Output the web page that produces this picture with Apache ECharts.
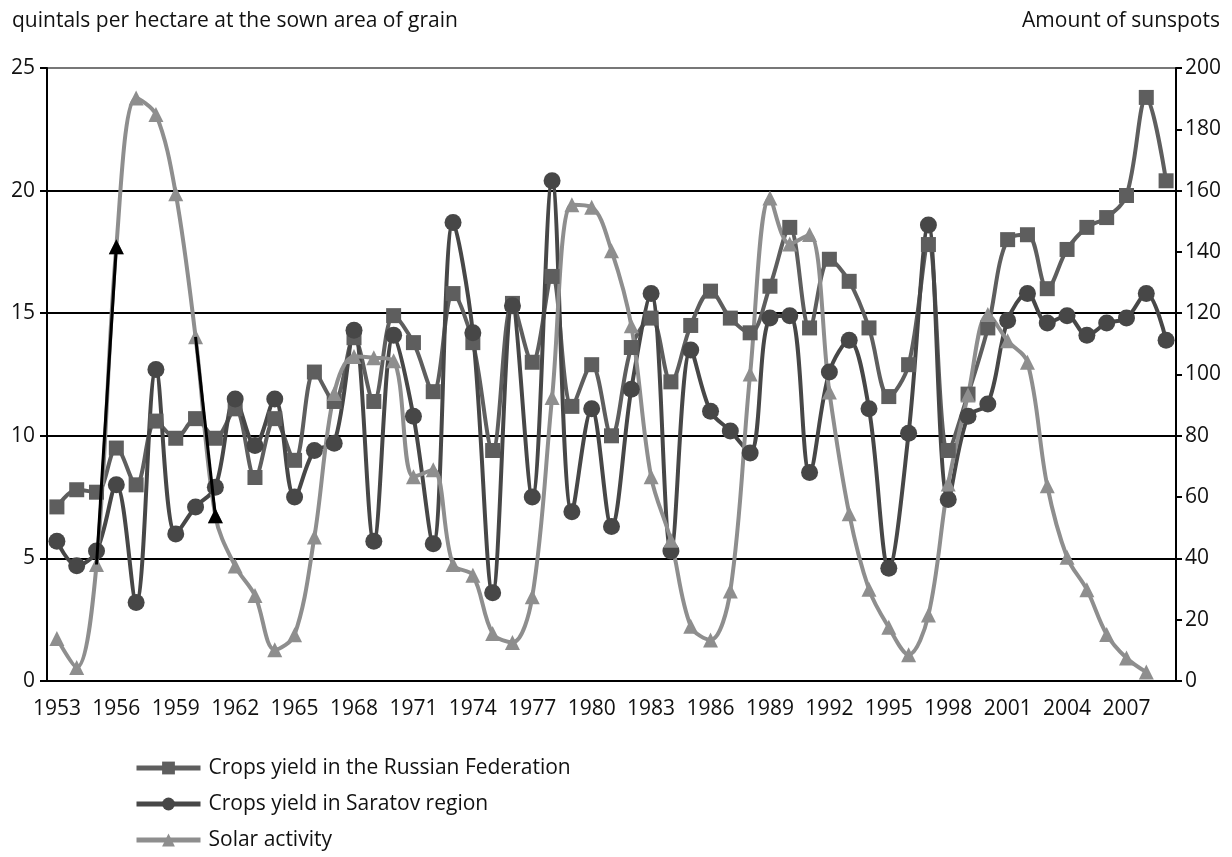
<!DOCTYPE html>
<html>
<head>
<meta charset="utf-8">
<script src="https://cdn.jsdelivr.net/npm/echarts@6/dist/echarts.min.js"></script>
<style>
  html, body { margin: 0; padding: 0; background: #fff; }
  #chart { width: 1232px; height: 857px; }
</style>
</head>
<body>
<div id="chart"></div>
<script>
const years = ['1953', '1954', '1955', '1956', '1957', '1958', '1959', '1960', '1961', '1962',
  '1963', '1964', '1965', '1966', '1967', '1968', '1969', '1970', '1971', '1972',
  '1973', '1974', '1975', '1976', '1977', '1978', '1979', '1980', '1981', '1982',
  '1983', '1984', '1985', '1986', '1987', '1988', '1989', '1990', '1991', '1992',
  '1993', '1994', '1995', '1996', '1997', '1998', '1999', '2000', '2001', '2002',
  '2003', '2004', '2005', '2006', '2007', '2008', '2009']

// quintals per hectare
const russia = [7.1, 7.8, 7.7, 9.5, 8.0, 10.6, 9.9, 10.7, 9.9, 11.1,
  8.3, 10.7, 9.0, 12.6, 11.4, 14.0, 11.4, 14.9, 13.8, 11.8,
  15.8, 13.8, 9.4, 15.4, 13.0, 16.5, 11.2, 12.9, 10.0, 13.6,
  14.8, 12.2, 14.5, 15.9, 14.8, 14.2, 16.1, 18.5, 14.4, 17.2,
  16.3, 14.4, 11.6, 12.9, 17.8, 9.4, 11.7, 14.4, 18.0, 18.2,
  16.0, 17.6, 18.5, 18.9, 19.8, 23.8, 20.4]

const saratov = [5.7, 4.7, 5.3, 8.0, 3.2, 12.7, 6.0, 7.1, 7.9, 11.5,
  9.6, 11.5, 7.5, 9.4, 9.7, 14.3, 5.7, 14.1, 10.8, 5.6,
  18.7, 14.2, 3.6, 15.3, 7.5, 20.4, 6.9, 11.1, 6.3, 11.9,
  15.8, 5.3, 13.5, 11.0, 10.2, 9.3, 14.8, 14.9, 8.5, 12.6,
  13.9, 11.1, 4.6, 10.1, 18.6, 7.4, 10.8, 11.3, 14.7, 15.8,
  14.6, 14.9, 14.1, 14.6, 14.8, 15.8, 13.9]

// sunspot numbers, none drawn for 2009
const solar = [13.9, 4.4, 38.0, 141.7, 190.2, 184.8, 159.0, 112.3, 53.9, 37.5,
  27.9, 10.2, 15.1, 47.0, 93.8, 105.9, 105.5, 104.5, 66.6, 68.9,
  38.0, 34.5, 15.5, 12.6, 27.5, 92.5, 155.4, 154.6, 140.4, 115.9,
  66.6, 45.9, 17.9, 13.4, 29.4, 100.2, 157.6, 142.6, 145.7, 94.3,
  54.6, 29.9, 17.5, 8.6, 21.5, 64.3, 93.3, 119.6, 111.0, 104.0,
  63.7, 40.4, 29.8, 15.2, 7.5, 2.9, null]

// black arrows drawn over the solar curve: [from year, to year]
const arrows = [['1955', '1956'], ['1960', '1961']]

const font = 'Open Sans'

function arrowSeries(pair) {
  const from = years.indexOf(pair[0])
  const to = years.indexOf(pair[1])
  return {
    type: 'line',
    yAxisIndex: 1,
    z: 5,
    showAllSymbol: true,
    lineStyle: { color: '#000', width: 3 },
    itemStyle: { color: '#000' },
    data: years.map((y, i) => {
      if (i === from) return { value: solar[i], symbol: 'none' }
      if (i === to) return { value: solar[i], symbol: 'triangle', symbolSize: 15 }
      return null
    }),
  }
}

const chart = echarts.init(document.getElementById('chart'))
chart.setOption({
  animation: false,
  textStyle: { fontFamily: font },
  grid: { left: 47, right: 56, top: 68, bottom: 176 },
  graphic: [
    { type: 'text', left: 12, top: 11, style: { text: 'quintals per hectare at the sown area of grain', fontFamily: font, fontSize: 21, fill: '#111' } },
    { type: 'text', right: 12, top: 11, style: { text: 'Amount of sunspots', fontFamily: font, fontSize: 21, fill: '#111' } },
  ],
  legend: {
    orient: 'vertical',
    left: 134,
    top: 756,
    padding: 0,
    itemWidth: 64,
    itemHeight: 16,
    itemGap: 12,
    lineStyle: { width: 5 },
    data: ['Crops yield in the Russian Federation', 'Crops yield in Saratov region', 'Solar activity'],
    textStyle: { fontFamily: font, fontSize: 21, color: '#111', lineHeight: 24, padding: [0, 0, 0, 3] },
  },
  xAxis: {
    type: 'category',
    data: years,
    boundaryGap: true,
    axisLine: { lineStyle: { color: '#000', width: 2 } },
    axisTick: { interval: 0, length: 7, lineStyle: { color: '#000', width: 2 } },
    axisLabel: { interval: 2, margin: 18, fontSize: 21, color: '#111', fontFamily: font },
  },
  yAxis: [
    {
      type: 'value',
      min: 0,
      max: 25,
      interval: 5,
      axisLine: { show: true, lineStyle: { color: '#000', width: 2 } },
      axisTick: { show: true, length: 7, lineStyle: { color: '#000', width: 2 } },
      axisLabel: { margin: 12, fontSize: 21, color: '#111', fontFamily: font },
      splitLine: { lineStyle: { color: ['#000', '#000', '#000', '#000', '#000', '#777'], width: 2 } },
    },
    {
      type: 'value',
      min: 0,
      max: 200,
      interval: 20,
      position: 'right',
      axisLine: { show: true, lineStyle: { color: '#000', width: 2 } },
      axisTick: { show: true, length: 6, lineStyle: { color: '#000', width: 2 } },
      axisLabel: { margin: 9, fontSize: 21, color: '#111', fontFamily: font },
      splitLine: { show: false },
    },
  ],
  series: [
    {
      name: 'Crops yield in the Russian Federation',
      type: 'line',
      data: russia,
      smooth: 0.35,
      showAllSymbol: true,
      symbol: 'rect',
      symbolSize: 15,
      lineStyle: { color: '#5e5e5e', width: 4 },
      itemStyle: { color: '#5e5e5e' },
    },
    {
      name: 'Crops yield in Saratov region',
      type: 'line',
      data: saratov,
      smooth: 0.35,
      showAllSymbol: true,
      symbol: 'circle',
      symbolSize: 17,
      lineStyle: { color: '#474747', width: 4 },
      itemStyle: { color: '#474747' },
    },
    {
      name: 'Solar activity',
      type: 'line',
      yAxisIndex: 1,
      data: solar,
      smooth: 0.35,
      showAllSymbol: true,
      symbol: 'triangle',
      symbolSize: 15,
      lineStyle: { color: '#8e8e8e', width: 4 },
      itemStyle: { color: '#8e8e8e' },
    },
    ...arrows.map(arrowSeries),
  ],
})
</script>
</body>
</html>
